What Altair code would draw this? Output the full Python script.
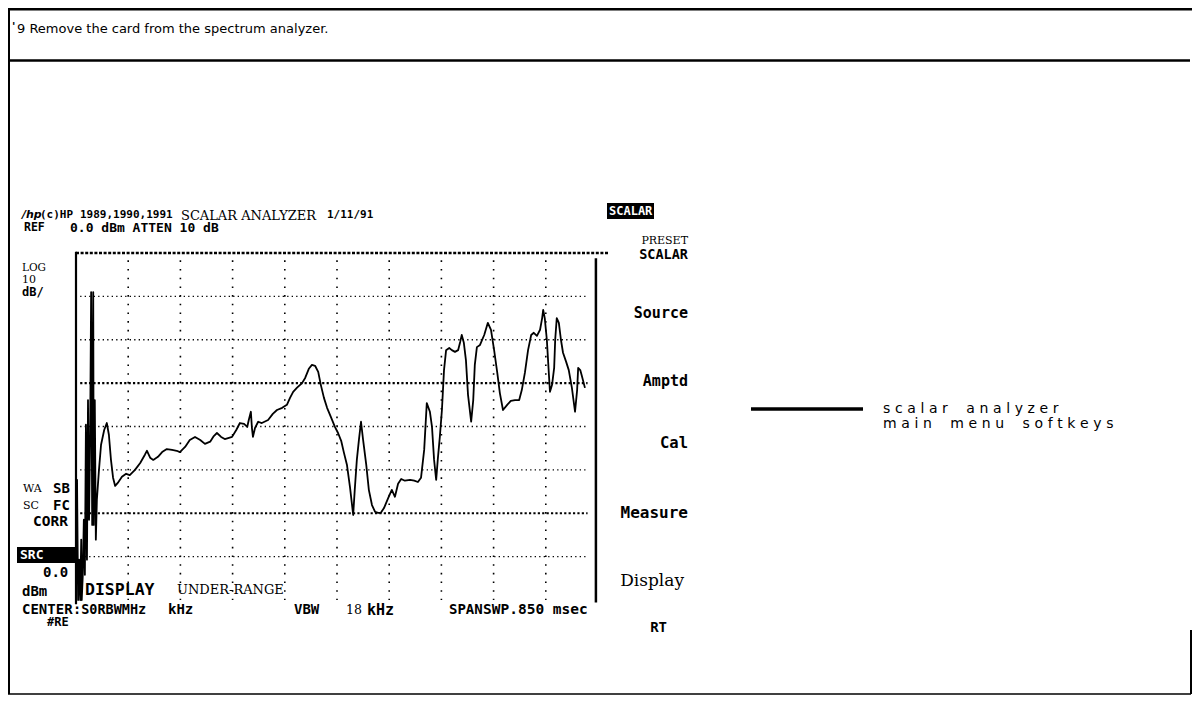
import altair as alt
import pandas as pd

# ---------------- data read from the analyzer screen ----------------
# trace: horizontal position in graticule divisions (0..10), level in dB (REF 0 dBm, 10 dB/div)
trace_div = [0.00, 0.02, 0.04, 0.06, 0.08, 0.10, 0.11, 0.13, 0.15, 0.17, 0.19, 0.21, 0.23, 0.25, 0.27,
             0.29, 0.31, 0.33, 0.34, 0.36, 0.38, 0.40, 0.44, 0.48, 0.54, 0.59, 0.63, 0.67, 0.71, 0.75,
             0.80, 0.88, 0.96, 1.03, 1.13, 1.23, 1.32, 1.36, 1.42, 1.48, 1.57, 1.65, 1.74, 1.84, 1.93,
             1.99, 2.09, 2.18, 2.28, 2.38, 2.47, 2.57, 2.64, 2.70, 2.78, 2.85, 2.93, 2.99, 3.07, 3.14,
             3.22, 3.28, 3.31, 3.35, 3.37, 3.39, 3.43, 3.49, 3.56, 3.68, 3.77, 3.85, 3.95, 4.04, 4.10,
             4.16, 4.23, 4.33, 4.39, 4.46, 4.52, 4.58, 4.64, 4.69, 4.75, 4.81, 4.89, 4.96, 5.02, 5.08,
             5.13, 5.19, 5.25, 5.31, 5.34, 5.38, 5.42, 5.46, 5.50, 5.56, 5.61, 5.67, 5.73, 5.79, 5.84,
             5.90, 5.98, 6.05, 6.11, 6.17, 6.23, 6.30, 6.40, 6.48, 6.55, 6.61, 6.67, 6.72, 6.78, 6.82,
             6.86, 6.90, 6.93, 6.97, 7.01, 7.05, 7.09, 7.15, 7.20, 7.26, 7.32, 7.36, 7.39, 7.43, 7.47,
             7.51, 7.57, 7.61, 7.64, 7.68, 7.74, 7.82, 7.89, 7.95, 8.01, 8.07, 8.12, 8.18, 8.26, 8.33,
             8.41, 8.49, 8.54, 8.60, 8.66, 8.72, 8.77, 8.83, 8.89, 8.93, 8.95, 8.98, 9.02, 9.06, 9.08,
             9.12, 9.16, 9.18, 9.21, 9.25, 9.29, 9.33, 9.39, 9.44, 9.50, 9.56, 9.60, 9.62, 9.66, 9.69,
             9.75]
trace_db = [-80.0, -52.3, -80.0, -70.7, -80.0, -66.1, -80.0, -74.2, -61.5, -74.2, -39.6, -70.7, -33.9, -61.5, -43.1,
            -9.0, -62.7, -9.0, -62.7, -33.9, -66.1, -56.9, -50.0, -44.2, -40.8, -39.2, -41.9, -47.7, -51.8, -53.7,
            -53.0, -51.6, -50.9, -51.2, -50.0, -48.4, -46.5, -45.6, -47.2, -47.7, -47.0, -45.9, -45.2, -45.4, -45.6,
            -45.9, -44.7, -43.1, -42.4, -43.1, -44.0, -43.5, -42.2, -41.5, -42.4, -42.9, -42.6, -42.4, -40.8, -39.2,
            -39.4, -40.1, -38.5, -36.6, -40.3, -42.4, -40.3, -38.9, -39.2, -38.5, -37.1, -36.2, -35.7, -35.0, -33.4,
            -32.0, -31.1, -30.0, -28.8, -26.7, -25.8, -26.0, -27.4, -30.4, -33.4, -35.7, -38.0, -40.1, -41.5, -43.3,
            -45.9, -48.8, -54.1, -60.4, -54.6, -47.7, -43.1, -38.9, -43.1, -48.8, -54.6, -58.1, -59.7, -59.9, -59.9,
            -58.8, -56.5, -54.6, -56.2, -53.2, -52.1, -52.5, -52.3, -52.5, -52.8, -51.8, -45.4, -34.6, -36.6, -40.1,
            -47.7, -52.3, -47.7, -42.4, -36.2, -27.0, -22.4, -21.9, -22.4, -22.8, -22.4, -20.5, -18.9, -20.7, -24.7,
            -32.7, -38.9, -33.9, -25.8, -21.7, -21.2, -18.9, -16.1, -17.7, -22.4, -27.6, -32.3, -36.2, -35.0, -34.1,
            -33.9, -33.9, -31.6, -27.6, -22.4, -18.9, -18.4, -19.1, -17.7, -15.0, -13.1, -15.0, -20.0, -28.1, -32.0,
            -30.4, -26.5, -20.0, -15.0, -16.1, -20.0, -23.0, -25.1, -27.0, -31.1, -36.6, -31.6, -26.5, -27.0, -28.3,
            -31.1]

grid_fine_db = [-10, -20, -40, -50, -70]
grid_bold_db = [-30, -60]
grid_top_db = [0]
grid_vert_div = [1, 2, 3, 4, 5, 6, 7, 8, 9]

header_text = "9 Remove the card from the spectrum analyzer."
annot_lines = ["scalar analyzer", "main menu softkeys"]

# ---------------- chart ----------------
W, H = 1184, 688
M = 8  # page margin
MONO = "DejaVu Sans Mono"
SERIF = "DejaVu Serif"
SANS = "DejaVu Sans"

xs = alt.Scale(domain=[0, 10], range=[76 - M, 598 - M], nice=False, zero=False)
ys = alt.Scale(domain=[-80, 0], range=[600 - M, 253 - M], nice=False, zero=False)

one = pd.DataFrame({"k": [0]})
layers = []

trace_df = pd.DataFrame({"div": trace_div, "db": trace_db, "i": list(range(len(trace_div)))})
layers.append(
    alt.Chart(trace_df).mark_line(color="black", strokeWidth=1.8, strokeJoin="round").encode(
        x=alt.X("div:Q", scale=xs, axis=None),
        y=alt.Y("db:Q", scale=ys, axis=None),
        order=alt.Order("i:Q"),
    )
)

layers.append(
    alt.Chart(pd.DataFrame({"db": grid_fine_db})).mark_rule(color="black", strokeWidth=1.3, strokeDash=[1.3, 3.2]).encode(
        y=alt.Y("db:Q", scale=ys, axis=None), x=alt.XDatum(0.08, axis=None), x2=alt.X2Datum(9.8)
    )
)
layers.append(
    alt.Chart(pd.DataFrame({"db": grid_bold_db})).mark_rule(color="black", strokeWidth=2.2, strokeDash=[2.2, 2.2]).encode(
        y=alt.Y("db:Q", scale=ys, axis=None), x=alt.XDatum(0.08, axis=None), x2=alt.X2Datum(9.8)
    )
)
layers.append(
    alt.Chart(pd.DataFrame({"db": grid_top_db})).mark_rule(color="black", strokeWidth=2.4, strokeDash=[3, 1.6]).encode(
        y=alt.Y("db:Q", scale=ys, axis=None), x=alt.XDatum(0.0, axis=None), x2=alt.X2Datum(10.2)
    )
)
layers.append(
    alt.Chart(pd.DataFrame({"div": grid_vert_div})).mark_rule(color="black", strokeWidth=1.6, strokeDash=[1.6, 7.08], strokeDashOffset=-3).encode(
        x=alt.X("div:Q", scale=xs, axis=None), y=alt.YDatum(-1, axis=None), y2=alt.Y2Datum(-80)
    )
)
# graticule borders
layers.append(
    alt.Chart(one).mark_rule(color="black", strokeWidth=2.2).encode(
        x=alt.XDatum(0.0, axis=None), y=alt.YDatum(0.3, axis=None), y2=alt.Y2Datum(-81)
    )
)
layers.append(
    alt.Chart(one).mark_rule(color="black", strokeWidth=2.5).encode(
        x=alt.XDatum(9.96, axis=None), y=alt.YDatum(-1.2, axis=None), y2=alt.Y2Datum(-80.6)
    )
)

# page frame lines
def hline(x1, x2, y, w):
    return alt.Chart(one).mark_rule(color="black", strokeWidth=w).encode(
        x=alt.value(x1 - M), x2=alt.value(x2 - M), y=alt.value(y - M))

def vline(x, y1, y2, w):
    return alt.Chart(one).mark_rule(color="black", strokeWidth=w).encode(
        x=alt.value(x - M), y=alt.value(y1 - M), y2=alt.value(y2 - M))

layers += [
    hline(8, 1192, 9, 3),
    hline(8, 1190, 60.5, 2.5),
    vline(9, 8, 694, 2),
    hline(8, 1191, 694, 1.6),
    vline(1191, 630, 694, 2),
    hline(751, 863, 409, 3.5),
]

def box(x1, y1, x2, y2):
    return alt.Chart(one).mark_rect(color="black").encode(
        x=alt.value(x1 - M), x2=alt.value(x2 - M), y=alt.value(y1 - M), y2=alt.value(y2 - M))

layers += [box(17, 547, 75, 563), box(607, 203, 654, 219)]

def label(txt, x, y, size, font=MONO, weight="bold", color="black", align="left", baseline="middle", style="normal"):
    return alt.Chart(one).mark_text(
        text=txt, font=font, fontSize=size, fontWeight=weight, color=color,
        align=align, baseline=baseline, fontStyle=style,
    ).encode(x=alt.value(x - M), y=alt.value(y - M))

letter_gap = "\u2004"
word_gap = " \u2002\u2002"
def spaced(s):
    return word_gap.join(letter_gap.join(list(w)) for w in s.split(" "))

layers += [
    # page header
    label("'", 12, 30, 11, SANS, "bold", baseline="alphabetic"),
    label(header_text, 17, 32.5, 13, SANS, "normal", baseline="alphabetic"),
    # screen header
    label("/hp", 22, 215, 11, SANS, "bold", style="italic"),
    label("(c)HP", 40, 215, 11),
    label("1989,1990,1991", 80, 215, 11),
    label("SCALAR  ANALYZER", 181, 216, 13, SERIF, "normal"),
    label("1/11/91", 327, 215, 11),
    label("REF", 24, 228, 11.5),
    label("0.0 dBm ATTEN 10 dB", 70, 228, 13),
    # left annotations
    label("LOG", 22, 268, 10.5, SERIF, "normal"),
    label("10", 22, 280, 11, SERIF, "normal"),
    label("dB/", 22, 292, 12),
    label("WA", 23, 489, 11, SERIF, "normal"),
    label("SB", 53, 489, 14),
    label("SC", 23, 506, 11, SERIF, "normal"),
    label("FC", 53, 506, 14),
    label("CORR", 33, 522, 14.5),
    label("SRC", 20, 555, 13, color="white"),
    label("0.0", 43, 573, 14),
    label("dBm", 22, 592, 14),
    label("CENTER", 22, 610, 14),
    label("#RE", 47, 622, 12),
    # bottom lines
    label("DISPLAY", 85, 590, 16.5),
    label("UNDER-RANGE", 177, 590, 13, SERIF, "normal"),
    label(":S0RBWMHz", 73, 610, 13.5),
    label("kHz", 168, 610, 14),
    label("VBW", 294, 610, 14),
    label("18", 346, 610, 12.5, SERIF, "normal"),
    label("kHz", 367, 610, 15),
    label("SPAN", 449, 610, 14),
    label("SWP.850 msec", 483, 610, 14.5),
    # softkeys
    label("SCALAR", 609, 211, 12, color="white"),
    label("PRESET", 688, 240.5, 11, SERIF, "normal", align="right"),
    label("SCALAR", 688, 254.5, 13.5, align="right"),
    label("Source", 688, 313, 15, align="right"),
    label("Amptd", 688, 381, 15, align="right"),
    label("Cal", 688, 443, 15.5, align="right"),
    label("Measure", 688, 513, 16, align="right"),
    label("Display", 684, 581, 17, SERIF, "normal", align="right"),
    label("RT", 667, 628, 14, align="right"),
    # callout
    label(spaced(annot_lines[0]), 883, 413, 14, SANS, "normal", baseline="alphabetic"),
    label(spaced(annot_lines[1]), 883, 428, 14, SANS, "normal", baseline="alphabetic"),
]

chart = alt.layer(*layers).properties(
    width=W, height=H, autosize=alt.AutoSizeParams(type="none"), padding=0
).configure_view(stroke=None)

chart.save("out.html", embed_options={"renderer": "svg", "actions": False})
